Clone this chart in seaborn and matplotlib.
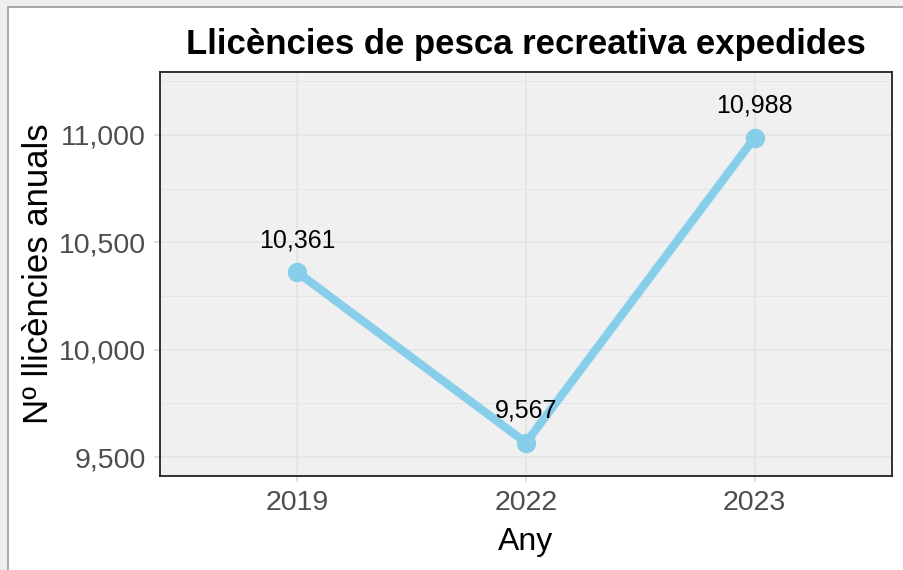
import matplotlib
matplotlib.use("Agg")
import matplotlib.pyplot as plt
import matplotlib.patches as mpatches
from matplotlib.ticker import FuncFormatter, MultipleLocator
import pandas as pd
import seaborn as sns

years = ["2019", "2022", "2023"]
licences = [10361, 9567, 10988]
y_ticks = [9500, 10000, 10500, 11000]

sns.set_theme(style="white")
plt.rcParams["font.family"] = ["Liberation Sans", "DejaVu Sans"]

df = pd.DataFrame({"any": years, "llicencies": licences})

fig = plt.figure(figsize=(9.04, 5.70), dpi=100, facecolor="#EEEEEE")
# white "window" with a thin grey frame, behind the axes
fig.patches.append(mpatches.Rectangle((8 / 904, -0.05), 1.0, 1 - 7 / 570 + 0.05,
                                      transform=fig.transFigure, facecolor="white",
                                      edgecolor="#9A9A9A", linewidth=1.2, zorder=-5))
ax = fig.add_axes([160 / 904, 1 - 476 / 570, (892 - 160) / 904, (476 - 72) / 570])
ax.set_facecolor("#F0F0F0")

sns.lineplot(data=df, x="any", y="llicencies", ax=ax, color="#87CEEB",
             linewidth=6, marker="o", markersize=14, markeredgewidth=0, sort=False)

for i, v in enumerate(licences):
    ax.annotate(f"{v:,}", (i, v), xytext=(0, 23), textcoords="offset points",
                ha="center", va="center", fontsize=18, color="black")

ax.set_xlim(-0.6, 2.6)
ax.set_ylim(9412, 11293)
ax.set_yticks(y_ticks)
ax.yaxis.set_minor_locator(MultipleLocator(250))
ax.yaxis.set_major_formatter(FuncFormatter(lambda v, p: f"{int(v):,}"))
ax.grid(True, which="major", color="#E4E4E4", linewidth=1.1)
ax.grid(True, which="minor", axis="y", color="#E4E4E4", linewidth=0.6)
ax.set_axisbelow(True)
for s in ax.spines.values():
    s.set_color("#222222")
    s.set_linewidth(1.3)
ax.tick_params(axis="both", which="major", labelsize=20.5, labelcolor="#4D4D4D",
               length=4, color="#DDDDDD", left=True, bottom=True)
ax.tick_params(axis="y", which="major", pad=6)
ax.tick_params(axis="x", which="major", pad=6)
ax.tick_params(axis="y", which="minor", left=False)

ax.set_xlabel("Any", fontsize=23, color="black", labelpad=8)
ax.set_ylabel("Nº llicències anuals", fontsize=25, color="black", labelpad=3)
ax.set_title("Llicències de pesca recreativa expedides", fontsize=25,
             fontweight="bold", color="black", pad=13)

fig.savefig("out.png", dpi=100, facecolor=fig.get_facecolor())
